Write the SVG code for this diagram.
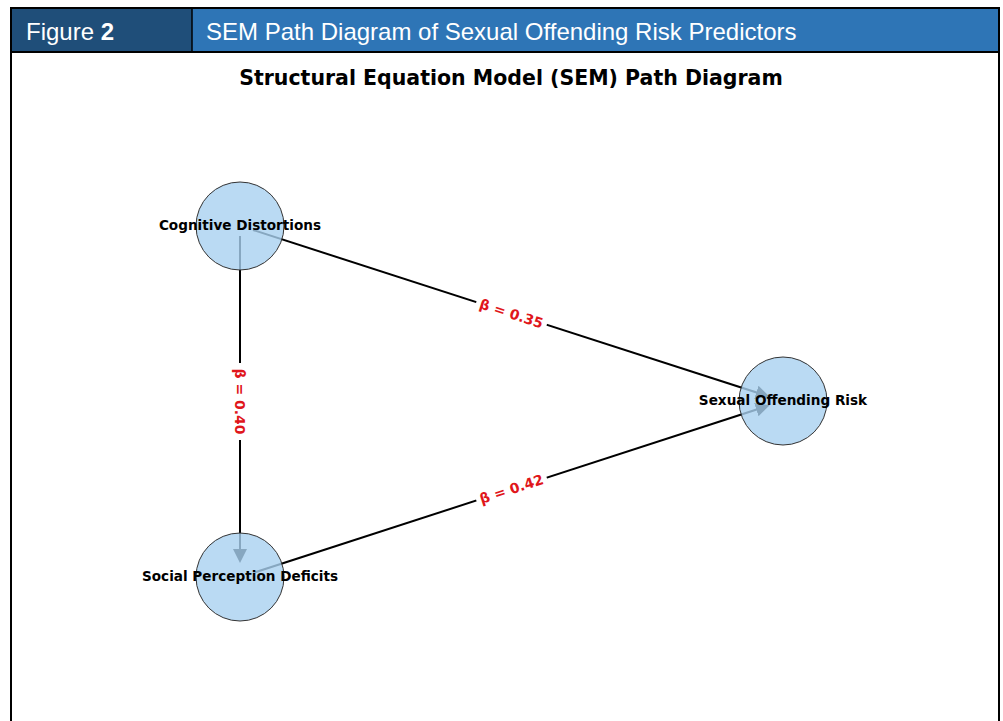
<svg xmlns="http://www.w3.org/2000/svg" width="1003" height="721" viewBox="0 0 1003 721">
<style>
.hdr{font-family:"Liberation Sans",Arial,sans-serif;font-size:24px;fill:#fff}
.title{font-family:"DejaVu Sans",sans-serif;font-weight:bold;font-size:20.5px;fill:#000}
.nl{font-family:"DejaVu Sans",sans-serif;font-weight:bold;font-size:13.6px;fill:#000;text-anchor:middle}
.el{font-family:"DejaVu Sans",sans-serif;font-weight:bold;font-size:14px;fill:#e0161b;text-anchor:middle}
.edge{stroke:#000;stroke-width:2;fill:none;marker-end:url(#arr)}
.node{fill:#a9d1f0;fill-opacity:0.8;stroke:#333;stroke-width:1}
.lbg{fill:#fff}
</style>
<defs>
<marker id="arr" markerUnits="userSpaceOnUse" markerWidth="14" markerHeight="14" viewBox="0 0 14 14" refX="11" refY="7" orient="auto">
<path d="M0,0 L14,7 L0,14 z" fill="#000"/>
</marker>
</defs>
<rect x="0" y="0" width="1003" height="721" fill="#fff"/>
<g id="frame">
<rect x="11" y="8" width="181" height="44" fill="#1f4e79"/>
<rect x="192" y="8" width="807" height="44" fill="#2e75b6"/>
<path d="M11,721 L11,8 L999,8 L999,721" fill="none" stroke="#000" stroke-width="2"/>
<line x1="11" y1="52" x2="999" y2="52" stroke="#000" stroke-width="2"/>
<line x1="192" y1="8" x2="192" y2="52" stroke="#000" stroke-width="1.5"/>
<text class="hdr" x="26" y="39.5">Figure <tspan font-weight="bold">2</tspan></text>
<text class="hdr" x="206" y="39.5">SEM Path Diagram of Sexual Offending Risk Predictors</text>
</g>
<text class="title" x="511" y="85" text-anchor="middle">Structural Equation Model (SEM) Path Diagram</text>
<g id="connectors">
<line class="edge" x1="253" y1="230" x2="766.8" y2="395.8"/>
<line class="edge" x1="253" y1="573" x2="766.8" y2="406.2"/>
<line class="edge" x1="240" y1="236" x2="240" y2="560"/>
<g transform="translate(511.5,313.5) rotate(17.9)">
<rect class="lbg" x="-37" y="-9" width="74" height="18"/>
<text class="el" x="0" y="5">β = 0.35</text>
</g>
<g transform="translate(511.5,489) rotate(-17.9)">
<rect class="lbg" x="-37" y="-9" width="74" height="18"/>
<text class="el" x="0" y="5">β = 0.42</text>
</g>
<g transform="translate(240,401.5) rotate(90)">
<rect class="lbg" x="-38.5" y="-9" width="77" height="18"/>
<text class="el" x="0" y="5">β = 0.40</text>
</g>
</g>
<g id="node-cd">
<circle class="node" cx="240" cy="226" r="44"/>
<text class="nl" x="240" y="229.5">Cognitive Distortions</text>
</g>
<g id="node-spd">
<circle class="node" cx="240" cy="577" r="44"/>
<text class="nl" x="240" y="580.5">Social Perception Deficits</text>
</g>
<g id="node-sor">
<circle class="node" cx="783" cy="401" r="44"/>
<text class="nl" x="783" y="404.5">Sexual Offending Risk</text>
</g>
</svg>
